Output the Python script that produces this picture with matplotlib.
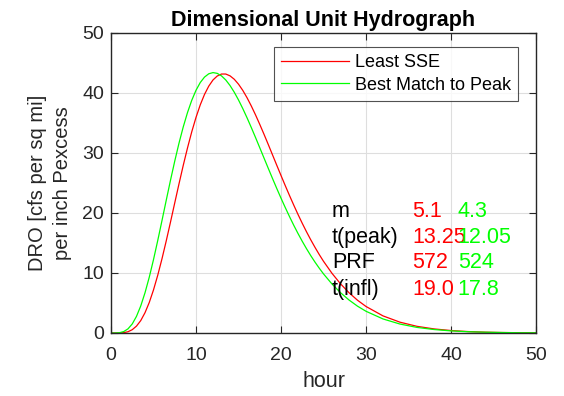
import numpy as np
from matplotlib import pyplot as plt

plt.rcParams['font.family'] = ['Liberation Sans', 'DejaVu Sans']

# hours and ordinates
hours = [0, 0.5, 1, 1.5, 2, 2.5, 3, 3.5, 4, 4.5, 5, 5.5, 6, 6.5, 7, 7.5, 8, 8.5, 9, 9.5,
         10, 10.5, 11, 11.5, 12, 12.5, 13, 13.5, 14, 14.5, 15, 15.5, 16, 16.5, 17, 17.5,
         18, 18.5, 19, 19.5, 20, 20.5, 21, 21.5, 22, 22.5, 23, 23.5, 24, 24.5, 25,
         26, 27, 28, 29, 30, 32, 34, 36, 38, 40, 42, 44, 46, 48, 50]
least_sse = [0, 0, 0.01, 0.06, 0.21, 0.55, 1.15, 2.07, 3.38, 5.08, 7.18, 9.63, 12.38,
             15.36, 18.49, 21.69, 24.86, 27.94, 30.84, 33.53, 35.93, 38.02, 39.76,
             41.14, 42.17, 42.83, 43.16, 43.16, 42.86, 42.29, 41.47, 40.44, 39.22,
             37.85, 36.36, 34.77, 33.12, 31.42, 29.69, 27.96, 26.25, 24.56, 22.91,
             21.31, 19.76, 18.28, 16.87, 15.53, 14.27, 13.07, 11.95,
             9.94, 8.20, 6.71, 5.46, 4.42, 2.85, 1.80, 1.11, 0.68, 0.41, 0.24, 0.14,
             0.08, 0.05, 0.03]
best_peak = [0, 0, 0.05, 0.24, 0.69, 1.51, 2.78, 4.51, 6.70, 9.29, 12.23, 15.42, 18.75,
             22.13, 25.46, 28.65, 31.64, 34.35, 36.74, 38.78, 40.45, 41.74, 42.65,
             43.20, 43.40, 43.27, 42.85, 42.17, 41.25, 40.13, 38.84, 37.41, 35.88,
             34.26, 32.59, 30.88, 29.16, 27.45, 25.75, 24.09, 22.47, 20.91, 19.40,
             17.95, 16.58, 15.28, 14.05, 12.89, 11.81, 10.80, 9.85,
             8.16, 6.72, 5.50, 4.47, 3.62, 2.34, 1.49, 0.93, 0.58, 0.35, 0.21, 0.13,
             0.08, 0.04, 0.03]

param_names = ["m", "t(peak)", "PRF", "t(infl)"]
sse_params = ["5.1", "13.25", "572", "19.0"]
peak_params = ["4.3", "12.05", "524", "17.8"]

fig = plt.figure(figsize=(5.64, 3.96), dpi=100)
ax = fig.add_axes([0.1968, 0.1591, 0.7536, 0.7576])

ax.plot(hours, least_sse, color="#ff0000", lw=0.9, label="Least SSE")
ax.plot(hours, best_peak, color="#00ff00", lw=0.9, label="Best Match to Peak")

ax.set_xlim(0, 50)
ax.set_ylim(0, 50)
ax.set_xticks([0, 10, 20, 30, 40, 50])
ax.set_yticks([0, 10, 20, 30, 40, 50])
ax.grid(True, color="#dedede", lw=0.8)
ax.set_axisbelow(True)
ax.tick_params(direction="in", top=True, right=True, length=5, width=0.8,
               labelsize=14, colors="#262626", pad=5)
ax.tick_params(axis="x", pad=10)
for s in ax.spines.values():
    s.set_color("#262626")
    s.set_linewidth(1.0)

ax.set_xlabel("hour", fontsize=15.5, color="#262626", labelpad=5)
ax.set_ylabel("DRO [cfs per sq mi]\nper inch Pexcess", fontsize=14.5, color="#262626",
              linespacing=1.4, labelpad=7)
ax.set_title("Dimensional Unit Hydrograph", fontsize=15.5, fontweight="bold", pad=5)

leg = ax.legend(loc="upper right", bbox_to_anchor=(0.958, 0.953), fontsize=13,
                frameon=True, fancybox=False, handlelength=3.8, handletextpad=0.3,
                borderpad=0.4, labelspacing=0.3, borderaxespad=0)
leg.get_frame().set_edgecolor("#262626")
leg.get_frame().set_linewidth(0.8)

# the reference itself has 13.25 running into 12.05
ys = [20.2, 15.9, 11.7, 7.2]
for name, a, b, y in zip(param_names, sse_params, peak_params, ys):
    ax.text(26.0, y, name, fontsize=15.5, va="center", color="black")
    ax.text(35.4, y, a, fontsize=15.5, va="center", color="#ff0000")
    ax.text(40.8, y, b, fontsize=15.5, va="center", color="#00ff00")

fig.savefig("out.png", dpi=100)
